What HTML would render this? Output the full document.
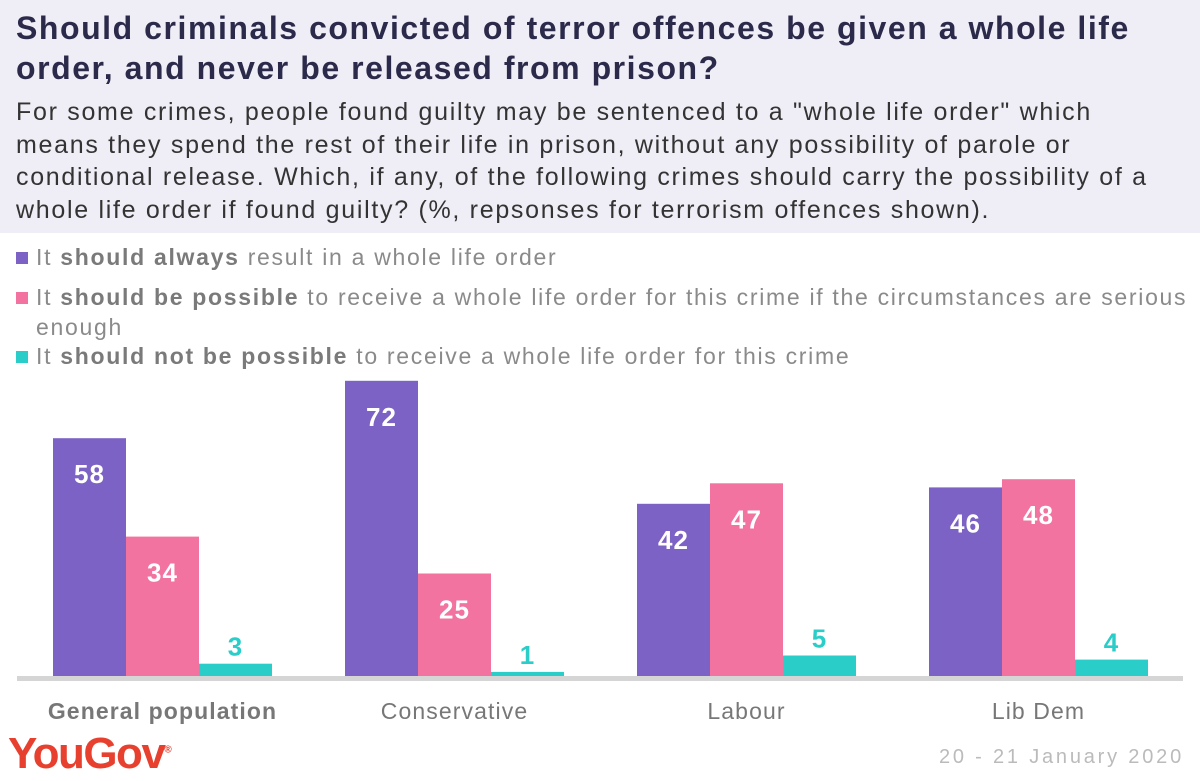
<!DOCTYPE html>
<html><head><meta charset="utf-8"><style>
body{margin:0;width:1200px;height:781px;background:#fff;font-family:"Liberation Sans",sans-serif;overflow:hidden;position:relative}
#hdr{position:absolute;left:0;top:0;width:1200px;height:233px;background:#efedf5}
#title{position:absolute;left:16px;top:8px;font-size:32px;font-weight:bold;color:#2b2a4a;line-height:40px;letter-spacing:1.55px;white-space:nowrap}
#sub{position:absolute;left:16px;top:96px;font-size:25px;color:#333;line-height:32.5px;letter-spacing:1.7px;white-space:nowrap}
.leg{position:absolute;left:16px;font-size:23px;color:#8a8a8a;line-height:30px;letter-spacing:1.7px;white-space:nowrap}
.leg b{color:#7a7a7a}
.sw{display:inline-block;width:12px;height:12px;margin-right:8px;vertical-align:1px}
#logo{position:absolute;left:8px;top:729px;font-size:44px;font-weight:bold;color:#e8402f;letter-spacing:-1.5px}
#date{position:absolute;right:16px;top:746px;font-size:20px;color:#bbb;letter-spacing:2.8px}
</style></head><body>
<div id="hdr"></div>
<div id="title">Should criminals convicted of terror offences be given a whole life<br>order, and never be released from prison?</div>
<div id="sub">For some crimes, people found guilty may be sentenced to a "whole life order" which<br>means they spend the rest of their life in prison, without any possibility of parole or<br>conditional release. Which, if any, of the following crimes should carry the possibility of a<br>whole life order if found guilty? (%, repsonses for terrorism offences shown).</div>
<div class="leg" style="top:242px"><span class="sw" style="background:#7b62c4"></span>It <b>should always</b> result in a whole life order</div>
<div class="leg" style="top:282px"><span class="sw" style="background:#f272a0"></span>It <b>should be possible</b> to receive a whole life order for this crime if the circumstances are serious<br><span style="padding-left:20px">enough</span></div>
<div class="leg" style="top:341px"><span class="sw" style="background:#2bcdc8"></span>It <b>should not be possible</b> to receive a whole life order for this crime</div>
<svg id="chart" width="1200" height="781" style="position:absolute;left:0;top:0"></svg>
<div id="logo">YouGov<sup style="font-size:10px">®</sup></div>
<div id="date">20 - 21 January 2020</div>
<script>
const categories=["General population","Conservative","Labour","Lib Dem"];
const always=[58,72,42,46];
const possible=[34,25,47,48];
const notPossible=[3,1,5,4];
const series=[always,possible,notPossible];
const colors=["#7b62c4","#f272a0","#2bcdc8"];
const names=["always","possible","not-possible"];
const svg=document.getElementById('chart');
const NS="http://www.w3.org/2000/svg";
const base=676, k=4.1, x0=53, gw=292, bw=73;
const y=v=>base-v*k;
function mk(t,a){const e=document.createElementNS(NS,t);for(const n in a)e.setAttribute(n,a[n]);svg.appendChild(e);return e;}
const ax=mk('rect',{x:17,y:676,width:1166,height:5,fill:'#d5d5d5'});


categories.forEach((c,i)=>{
  series.forEach((s,j)=>{
    const bx=x0+i*gw+j*bw,v=s[i];
    const r=mk('rect',{x:bx,y:y(v),width:bw,height:v*k,fill:colors[j]});
    
    
    const big=v*k>50;
    const t=mk('text',{x:bx+bw/2,y:big?y(v)+45:y(v)-8,'text-anchor':'middle','font-size':'26','font-weight':'bold',fill:big?'#fff':colors[j],'font-family':'Liberation Sans, sans-serif','letter-spacing':'1'});
    t.textContent=v;
    
    
  });
  const l=mk('text',{x:x0+i*gw+1.5*bw,y:719,'text-anchor':'middle','font-size':'23','font-weight':i==0?'bold':'normal',fill:'#777','font-family':'Liberation Sans, sans-serif','letter-spacing':'1.1'});
  l.textContent=c;
  
  
});
</script>
</body></html>
